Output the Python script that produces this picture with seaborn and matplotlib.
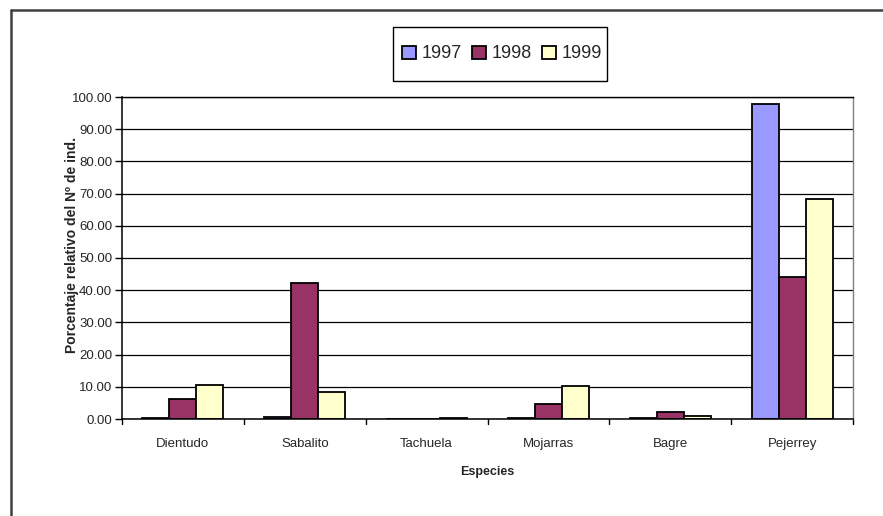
import matplotlib
matplotlib.use("Agg")
import matplotlib.pyplot as plt
from matplotlib.lines import Line2D
from matplotlib.patches import Rectangle
import seaborn as sns
import pandas as pd

species = ["Dientudo", "Sabalito", "Tachuela", "Mojarras", "Bagre", "Pejerrey"]
years = ["1997", "1998", "1999"]
v1997 = [0.3, 0.7, 0.0, 0.2, 0.2, 97.8]
v1998 = [6.2, 42.2, 0.0, 4.6, 2.1, 44.1]
v1999 = [10.6, 8.5, 0.3, 10.2, 1.0, 68.3]
colors = ["#9999FF", "#993366", "#FFFFCC"]
yticks = [0, 10, 20, 30, 40, 50, 60, 70, 80, 90, 100]

rows = []
for yr, vals in zip(years, [v1997, v1998, v1999]):
    for sp, v in zip(species, vals):
        rows.append({"Especies": sp, "Año": yr, "Valor": v})
df = pd.DataFrame(rows)

sns.set_style("white")
plt.rcParams["font.family"] = ["Liberation Sans", "DejaVu Sans"]

fig = plt.figure(figsize=(8.83, 5.16), dpi=100)
ax = fig.add_axes([122/883, 1-419/516, (853-122)/883, (419-97)/516])

sns.barplot(data=df, x="Especies", y="Valor", hue="Año", order=species,
            hue_order=years, palette=colors, width=0.664, edgecolor="black",
            linewidth=1.3, saturation=1, ax=ax, legend=True)

ax.set_ylim(0, 100)
ax.set_xlim(-0.5, len(species) - 0.5)
ax.set_yticks(yticks)
ax.set_yticklabels([f"{t:.2f}" for t in yticks], fontsize=9.5)
ax.yaxis.grid(True, color="black", linewidth=0.9)
ax.set_axisbelow(True)

ax.set_xticks(range(len(species)))
ax.set_xticklabels(species, fontsize=9.5)
ax.tick_params(axis="x", length=0, pad=14)
ax.tick_params(axis="y", length=5, width=1, color="black", direction="out", left=True, pad=2)
# boundary tick marks between categories
for b in [i - 0.5 for i in range(len(species) + 1)]:
    ax.plot([b, b], [0, -1.6], color="black", lw=1, clip_on=False)

ax.set_xlabel("Especies", fontsize=9, fontweight="bold")
ax.xaxis.set_label_coords(0.5, -(466 - 419) / 322)
ax.set_ylabel("Porcentaje relativo del Nº de ind.", fontsize=10, fontweight="bold")
ax.yaxis.set_label_coords(-(122 - 79) / 731, (419 - 245) / 322)

for s in ["left", "bottom"]:
    ax.spines[s].set_color("black")
    ax.spines[s].set_linewidth(1.1)
ax.spines["top"].set_color("black")
ax.spines["top"].set_linewidth(1)
ax.spines["right"].set_color("#808080")
ax.spines["right"].set_linewidth(1)

handles, labels = ax.get_legend_handles_labels()
if ax.legend_:
    ax.legend_.remove()
leg = fig.legend(handles, labels, loc="center", bbox_to_anchor=(502/883, 1-54/516),
                 ncol=3, frameon=False,
                 fontsize=13, handlelength=0.75, handleheight=0.75,
                 handletextpad=0.3, columnspacing=0.6, borderpad=0.3)
fig.add_artist(Rectangle((393/883, 1-81/516), (607-393)/883, (81-27)/516,
                         transform=fig.transFigure, fill=False, edgecolor="black", lw=1))

# outer chart border (left and top)
fig.add_artist(Line2D([11/883, 11/883], [0, 1-10/516], color="#404040", lw=1.8,
                      transform=fig.transFigure))
fig.add_artist(Line2D([11/883, 1], [1-10/516, 1-10/516], color="#404040", lw=1.8,
                      transform=fig.transFigure))

fig.savefig("out.png", dpi=100)
